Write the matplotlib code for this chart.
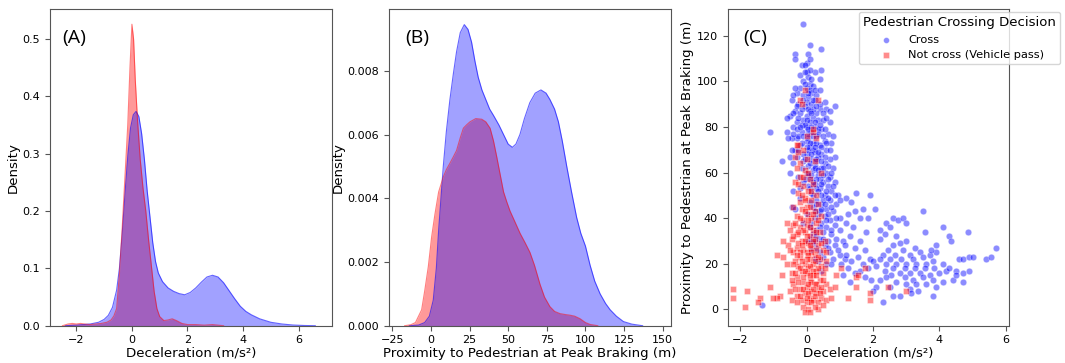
import matplotlib.pyplot as plt
import numpy as np

# ---- panel A: KDE of deceleration ----
decel_x_cross = [-2.4, -2.0, -1.5, -1.2, -1.0, -0.85, -0.7, -0.55, -0.45, -0.35, -0.25, -0.15,
                 -0.05, 0.05, 0.15, 0.25, 0.35, 0.45, 0.55, 0.65, 0.75, 0.85, 0.95, 1.1, 1.3,
                 1.5, 1.7, 1.9, 2.1, 2.3, 2.5, 2.7, 2.9, 3.1, 3.3, 3.5, 3.7, 3.9, 4.1, 4.3,
                 4.6, 5.0, 5.4, 5.8, 6.2, 6.6]
decel_d_cross = [0.0, 0.001, 0.003, 0.006, 0.011, 0.018, 0.032, 0.062, 0.1, 0.16, 0.23, 0.295,
                 0.345, 0.368, 0.374, 0.365, 0.335, 0.29, 0.235, 0.19, 0.145, 0.112, 0.092, 0.077,
                 0.066, 0.06, 0.056, 0.054, 0.058, 0.066, 0.076, 0.085, 0.088, 0.085, 0.075,
                 0.061, 0.047, 0.034, 0.025, 0.019, 0.012, 0.006, 0.003, 0.0012, 0.0004, 0.0]
decel_x_not = [-2.5, -2.3, -2.15, -2.0, -1.85, -1.7, -1.5, -1.3, -1.1, -0.9, -0.75, -0.65, -0.55,
               -0.45, -0.35, -0.25, -0.15, -0.07, 0.0, 0.06, 0.12, 0.2, 0.3, 0.4, 0.5, 0.6, 0.7,
               0.8, 0.9, 1.0, 1.15, 1.3, 1.45, 1.6, 1.8, 2.0, 2.3, 2.6, 2.9, 3.1, 3.3]
decel_d_not = [0.0, 0.003, 0.004, 0.003, 0.004, 0.003, 0.002, 0.003, 0.004, 0.006, 0.01, 0.017,
               0.03, 0.09, 0.17, 0.26, 0.35, 0.45, 0.526, 0.5, 0.43, 0.36, 0.29, 0.24, 0.2, 0.15,
               0.105, 0.06, 0.03, 0.016, 0.009, 0.01, 0.012, 0.009, 0.004, 0.002, 0.002, 0.001,
               0.002, 0.001, 0.0]

# ---- panel B: KDE of proximity at peak braking ----
prox_x_cross = [-14, -8, -4, -1, 1.5, 3.5, 5, 6.5, 8, 10, 12.3, 14.5, 16.6, 19, 21.6, 24, 26.3,
                28.5, 30.6, 33, 35.5, 38, 40.5, 44, 47, 50, 52.7, 55, 57.6, 60.5, 64, 67.5, 71.2,
                74.5, 77, 80, 82.5, 85, 87.9, 91, 94.3, 97, 100, 103, 106, 109.5, 113, 116, 120,
                124.6, 130, 137]
prox_d_cross = [0.0, 0.00002, 0.0001, 0.0003, 0.0008, 0.0018, 0.003, 0.004, 0.005, 0.0061, 0.0071,
                0.0079, 0.0086, 0.0092, 0.00945, 0.0093, 0.0089, 0.0083, 0.0078, 0.0074, 0.0071,
                0.0068, 0.0066, 0.0063, 0.006, 0.0057, 0.0056, 0.0057, 0.006, 0.0065, 0.0070,
                0.0073, 0.0074, 0.0073, 0.0071, 0.0068, 0.0064, 0.0058, 0.005, 0.0042, 0.0034,
                0.0029, 0.0025, 0.0019, 0.0014, 0.001, 0.0007, 0.0005, 0.0003, 0.00013, 0.00005, 0.0]
prox_x_not = [-17, -13, -10, -8, -6, -4, -1.7, 0.5, 2.6, 5, 8, 10, 12.3, 14.5, 16.6, 19, 21, 23,
              25.3, 29, 32.9, 35.5, 38.3, 40.5, 42.6, 45, 47, 49, 51.2, 54, 57.7, 61, 64.1, 67,
              70.6, 73.5, 77, 80, 83.5, 87, 90, 93, 96.5, 100, 103, 108]
prox_d_not = [0.0, 0.00003, 0.0001, 0.0003, 0.0005, 0.0011, 0.00185, 0.0028, 0.0035, 0.0042,
              0.00467, 0.0049, 0.0051, 0.0053, 0.0055, 0.0059, 0.0062, 0.0063, 0.0064, 0.0065,
              0.00648, 0.0064, 0.0062, 0.0058, 0.0053, 0.0047, 0.0042, 0.0039, 0.0036, 0.0033,
              0.0029, 0.0026, 0.0023, 0.0019, 0.0013, 0.0009, 0.0006, 0.00045, 0.00038, 0.00035,
              0.00033, 0.0003, 0.00022, 0.0001, 0.00004, 0.0]

# ---- panel C: scatter (deceleration, proximity) ----
cross_pts = [
    (-0.1, 125), (0.1, 116), (-0.35, 112), (-0.35, 110), (0.05, 112), (0.45, 114), (0.0, 108),
    (0.1, 110), (-0.15, 107), (-0.05, 107), (0.4, 101), (0.45, 105), (0.0, 104), (0.05, 102),
    (-0.1, 100), (0.1, 99), (0.2, 98), (-0.2, 97), (0.0, 97), (0.15, 95), (-0.3, 95), (-0.1, 94),
    (0.3, 94), (0.05, 93), (0.25, 92), (-0.45, 92), (-0.25, 90), (0.0, 91), (0.15, 90), (0.55, 91),
    (0.85, 89), (0.6, 88), (0.4, 88), (-0.35, 87), (0.1, 87), (0.3, 86), (-0.2, 86), (0.0, 85),
    (-0.5, 85), (0.2, 84), (-0.6, 84), (0.35, 83), (0.5, 83), (-0.1, 83), (0.1, 82), (-0.3, 82),
    (0.7, 82), (0.0, 80), (0.25, 80), (-0.4, 80), (0.45, 79), (-1.1, 78), (0.15, 78), (-0.15, 78),
    (0.65, 77), (0.8, 76), (0.3, 76), (-0.3, 75), (0.05, 75), (0.55, 74), (-0.45, 75), (0.2, 73),
    (0.75, 73), (-0.2, 72), (0.4, 72), (0.1, 71), (0.6, 70), (-0.35, 70), (0.25, 69), (0.0, 68),
    (0.45, 68), (0.85, 67), (-0.5, 67), (0.15, 66), (0.7, 66), (-0.75, 65), (0.3, 65), (0.55, 64),
    (-0.4, 64), (0.05, 63), (0.45, 62), (0.8, 62), (0.2, 61), (-0.5, 60), (0.6, 60), (0.35, 59),
    (0.7, 58), (-0.25, 58), (0.1, 57), (0.5, 56), (0.85, 56), (0.25, 55), (0.65, 54), (-0.4, 52),
    (0.4, 53), (0.75, 52), (0.15, 51), (0.55, 50), (0.95, 50), (-0.2, 49), (0.3, 48), (0.7, 48),
    (0.45, 46), (0.9, 46), (-0.45, 45), (0.2, 45), (0.6, 44), (-0.35, 44), (0.8, 43), (0.35, 42),
    (0.0, 42), (0.55, 41), (1.0, 40), (0.25, 40), (0.7, 39), (0.45, 38), (-0.1, 38), (0.85, 37),
    (0.6, 36), (0.3, 35), (1.0, 35), (0.5, 34), (0.2, 33), (0.75, 33), (0.9, 31), (0.4, 31),
    (0.65, 30), (0.05, 30), (1.1, 30), (0.55, 28), (0.85, 28), (0.3, 27), (0.15, 26), (0.7, 25),
    (1.0, 24), (0.5, 23), (0.35, 21),
    (0.1, 96), (-0.05, 89), (0.2, 88), (-0.15, 81), (0.35, 79), (0.05, 77), (-0.25, 76), (0.2, 70),
    (0.35, 67), (-0.1, 65), (0.25, 63), (0.4, 57), (0.05, 59), (0.3, 53), (0.5, 48), (0.4, 43),
    (0.65, 42), (0.1, 36), (0.25, 30),
    (-0.05, 99), (0.15, 101), (-0.2, 103), (0.25, 96), (-0.4, 94), (0.4, 96), (0.05, 95),
    (-0.1, 92), (0.2, 92), (0.4, 90), (-0.3, 89), (0.05, 88), (0.3, 89), (-0.15, 88), (0.5, 86),
    (-0.4, 86), (0.15, 86), (0.0, 83), (0.25, 82), (-0.25, 84), (0.6, 84), (0.4, 81), (-0.05, 81),
    (0.15, 80), (-0.3, 79), (0.55, 79), (0.05, 79), (0.35, 77), (-0.1, 76), (0.2, 76), (0.5, 76),
    (-0.4, 77), (0.0, 74), (0.3, 73), (0.6, 73), (-0.15, 73), (0.1, 73), (0.45, 71), (-0.25, 70),
    (0.25, 71), (0.05, 70), (0.7, 70), (0.35, 69), (-0.1, 68), (0.15, 68), (0.55, 67), (0.3, 66),
    (-0.05, 66), (0.45, 65), (0.1, 64), (0.65, 63), (0.25, 62), (-0.15, 62), (0.5, 62), (0.35, 61),
    (0.0, 60), (0.75, 60), (0.15, 59), (0.5, 59), (0.3, 57), (0.65, 57), (0.2, 56), (0.45, 55),
    (-0.1, 56), (0.8, 54), (0.05, 54), (0.35, 52), (0.6, 52), (0.2, 50), (0.45, 50), (0.85, 50),
    (0.65, 49), (0.3, 46), (0.1, 47), (0.55, 46), (0.75, 45), (0.45, 44), (0.25, 43), (0.6, 39),
    (0.15, 38), (0.4, 36), (0.75, 35), (0.5, 31), (0.3, 32), (0.2, 29), (0.65, 27), (0.4, 25),
    (0.8, 22), (0.6, 20), (0.25, 22), (0.45, 17), (0.1, 31), (0.9, 40), (0.95, 26), (1.15, 22),
    (0.75, 20), (-0.2, 53), (-0.05, 57), (0.1, 53), (-0.3, 67), (0.0, 71), (-0.45, 70), (-0.55, 75),
    (-0.6, 78), (-0.2, 80), (0.7, 87), (-0.35, 97), (0.25, 104), (0.1, 105), (-0.05, 104),
    (1.2, 49), (1.5, 51), (1.9, 50), (1.35, 47), (1.0, 48), (1.7, 44), (1.45, 43), (2.05, 44),
    (1.25, 42), (1.6, 40), (1.85, 40), (1.2, 38), (1.4, 36), (1.8, 34), (1.3, 32), (1.6, 30),
    (1.15, 28), (1.45, 27), (1.75, 26), (1.2, 24), (1.55, 23), (1.9, 22), (1.35, 21), (1.05, 20),
    (1.7, 20), (2.0, 21), (1.25, 18), (1.6, 17), (1.85, 18), (1.45, 16), (1.1, 15), (1.75, 14),
    (1.95, 13), (1.3, 12), (2.1, 10), (2.0, 8), (2.3, 3),
    (2.2, 31), (2.4, 38), (2.6, 40), (2.75, 39), (2.9, 40), (3.0, 38), (2.5, 36), (2.2, 35),
    (2.35, 33), (2.7, 32), (3.5, 43), (3.55, 34), (4.1, 36), (4.3, 32), (4.35, 30), (4.85, 34),
    (3.9, 28), (3.0, 30), (2.8, 29), (2.6, 28), (3.25, 27), (2.45, 26), (2.9, 26), (3.4, 25),
    (2.3, 24), (2.65, 24), (3.1, 24), (3.7, 24), (3.9, 25), (2.2, 22), (2.5, 22), (2.85, 22),
    (3.2, 22), (3.5, 23), (3.8, 21), (2.4, 20), (2.7, 20), (3.0, 20), (3.3, 20), (3.6, 20),
    (2.1, 19), (2.6, 18), (2.95, 18), (3.25, 18), (3.55, 18), (3.85, 18), (4.2, 17), (2.35, 17),
    (2.8, 16), (3.1, 16), (3.4, 16), (3.7, 15), (4.0, 16), (4.5, 17), (4.7, 16), (4.9, 17),
    (2.55, 15), (2.95, 14), (3.2, 13), (3.5, 14), (3.8, 13), (4.1, 12), (4.4, 13), (4.7, 12),
    (2.7, 12), (3.0, 11), (3.3, 11), (3.6, 11), (3.9, 10), (2.5, 10), (3.1, 9), (3.35, 8),
    (2.6, 6), (2.8, 6), (3.15, 7), (3.8, 6), (4.6, 22), (4.7, 22), (4.9, 23), (5.0, 23),
    (5.4, 22), (5.55, 23), (5.7, 27), (4.3, 18), (4.1, 20), (4.5, 15), (3.75, 26), (2.2, 13),
    (2.4, 14), (-1.35, 2),
]
not_cross_pts = [
    (-0.05, 96), (-0.2, 92), (0.35, 92), (-0.15, 90), (0.2, 78), (0.2, 79), (-0.25, 72), (-0.3, 72),
    (-0.1, 70), (-0.35, 67), (0.0, 66), (-0.2, 64), (0.25, 65), (-0.3, 62), (-0.05, 61), (0.45, 60),
    (-0.2, 58), (0.1, 57), (-0.35, 56), (0.2, 55), (-0.1, 54), (0.05, 52), (-0.25, 51), (0.3, 50),
    (-0.05, 49), (0.15, 48), (-0.2, 47), (0.35, 46), (0.0, 45), (-0.15, 44), (0.25, 43), (0.05, 42),
    (-0.3, 41), (0.45, 41), (0.15, 40), (-0.1, 39), (-0.6, 38), (0.3, 38), (-0.4, 37), (0.0, 37),
    (-0.2, 36), (0.2, 35), (-0.5, 35), (0.4, 34), (-0.05, 34), (-0.3, 33), (0.1, 32), (-0.45, 31),
    (0.25, 31), (-0.15, 30), (0.05, 29), (-0.55, 28), (0.35, 28), (-0.3, 27), (0.15, 27), (-0.1, 26),
    (0.5, 26), (-0.4, 25), (0.0, 25), (-0.9, 24), (-0.7, 23), (0.25, 24), (-0.2, 23), (0.4, 22),
    (0.1, 22), (-0.35, 21), (0.6, 21), (-0.05, 20), (0.2, 20), (-0.25, 19), (0.45, 19), (0.05, 18),
    (-0.15, 17), (0.3, 17), (1.05, 18), (-0.45, 16), (0.0, 16), (0.5, 16), (-0.75, 15), (0.2, 15),
    (-0.3, 14), (0.1, 13), (0.4, 13), (-0.1, 12), (1.5, 14), (1.5, 10), (-0.4, 11), (0.25, 11),
    (0.6, 11), (-1.1, 10), (0.0, 10), (0.35, 9), (-0.2, 9), (0.7, 9), (-2.2, 9), (-1.8, 8),
    (-0.5, 8), (0.15, 8), (0.5, 8), (-0.05, 7), (0.3, 7), (-0.3, 6), (-0.8, 6), (-0.9, 5),
    (-1.4, 5), (-2.2, 5), (1.9, 7), (0.1, 5), (0.45, 5), (-0.15, 4), (0.2, 4), (0.6, 4),
    (-0.45, 4), (1.25, 5), (1.9, 4), (0.0, 3), (0.35, 3), (-0.1, 1), (0.05, 0), (0.35, 0),
    (-1.85, 1), (-1.45, 3), (-1.0, 5), (2.45, 10), (3.0, 8), (1.55, 15), (1.75, 18), (0.75, 5),
    (0.85, 10), (0.9, 15), (-0.6, 20), (-0.7, 30), (0.55, 30), (0.6, 25), (-0.4, 45), (-0.25, 69),
    (0.0, 76), (0.3, 75), (-0.05, 48),
    (-0.1, 58), (0.05, 60), (-0.25, 55), (0.15, 52), (-0.15, 50), (0.1, 45), (-0.05, 43), (0.2, 42),
    (-0.2, 40), (0.35, 39), (0.05, 39), (-0.35, 38), (0.1, 36), (-0.1, 35), (0.3, 34), (-0.25, 34),
    (0.0, 32), (-0.4, 32), (0.2, 30), (-0.05, 30), (0.45, 29), (-0.25, 29), (0.1, 28), (-0.15, 28),
    (0.3, 26), (-0.5, 26), (0.15, 25), (-0.2, 25), (0.05, 24), (-0.3, 24), (0.35, 23), (0.0, 22),
    (-0.15, 21), (0.25, 21), (-0.4, 20), (0.1, 19), (0.35, 18), (-0.2, 18), (0.55, 18), (-0.05, 17),
    (0.2, 17), (-0.35, 16), (0.1, 15), (0.3, 15), (-0.1, 14), (0.15, 12), (0.5, 13), (-0.25, 12),
    (0.05, 11), (0.3, 11), (-0.45, 13), (0.45, 10), (-0.1, 9), (0.2, 9), (-0.35, 9), (0.05, 7),
    (0.25, 6), (0.4, 7), (-0.2, 6), (0.0, 5), (0.15, 3), (-0.3, 3), (0.5, 2), (0.25, 1),
    (-0.05, -1), (0.1, -1),
]

panel_labels = ['(A)', '(B)', '(C)']
legend_labels = ['Cross', 'Not cross (Vehicle pass)']

blue = 'blue'
red = 'red'
spine_col = '#555555'

fig = plt.figure(figsize=(10.65, 3.63), dpi=100)
axA = fig.add_axes([0.0469, 0.1027, 0.2648, 0.8716])
axB = fig.add_axes([0.3653, 0.1027, 0.2648, 0.8716])
axC = fig.add_axes([0.6833, 0.1027, 0.2644, 0.8716])

lab_fs = 9.6
tick_fs = 8

def kde_panel(ax, xn, dn, xc, dc):
    ax.fill_between(xn, dn, color=red, alpha=0.4, lw=0)
    ax.fill_between(xc, dc, color=blue, alpha=0.37, lw=0)
    ax.plot(xc, dc, color=blue, lw=0.8, alpha=0.6)
    ax.plot(xn, dn, color=red, lw=0.8, alpha=0.5)
    ax.set_ylabel('Density', fontsize=lab_fs, labelpad=2)

kde_panel(axA, decel_x_not, decel_d_not, decel_x_cross, decel_d_cross)
axA.set_xlim(-2.95, 7.2)
axA.set_ylim(0, 0.552)
axA.set_xticks([-2, 0, 2, 4, 6])
axA.set_xlabel('Deceleration (m/s²)', fontsize=lab_fs, labelpad=1)

kde_panel(axB, prox_x_not, prox_d_not, prox_x_cross, prox_d_cross)
axB.set_xlim(-27.1, 155.4)
axB.set_ylim(0, 0.00993)
axB.set_xticks([-25, 0, 25, 50, 75, 100, 125, 150])
axB.set_yticks([0, 0.002, 0.004, 0.006, 0.008])
axB.set_yticklabels(['0.000', '0.002', '0.004', '0.006', '0.008'])
axB.set_xlabel('Proximity to Pedestrian at Peak Braking (m)', fontsize=lab_fs, labelpad=1)

cx = [p[0] for p in cross_pts]
cy = [p[1] for p in cross_pts]
nx = [p[0] for p in not_cross_pts]
ny = [p[1] for p in not_cross_pts]
axC.scatter(cx, cy, s=22, c=blue, alpha=0.45, marker='o', edgecolors='white', linewidths=0.5,
            label=legend_labels[0])
axC.scatter(nx, ny, s=22, c=red, alpha=0.45, marker='s', edgecolors='white', linewidths=0.5,
            label=legend_labels[1])
axC.set_xlim(-2.37, 6.1)
axC.set_ylim(-7.2, 131.6)
axC.set_xticks([-2, 0, 2, 4, 6])
axC.set_yticks([0, 20, 40, 60, 80, 100, 120])
axC.set_xlabel('Deceleration (m/s²)', fontsize=lab_fs, labelpad=1)
axC.set_ylabel('Proximity to Pedestrian at Peak Braking (m)', fontsize=lab_fs, labelpad=2)
leg = axC.legend(title='Pedestrian Crossing Decision', loc='upper right',
                 bbox_to_anchor=(1.2, 1.01), fontsize=8.2, title_fontsize=9.5,
                 frameon=True, borderpad=0.35, labelspacing=0.5, handletextpad=0.9,
                 markerscale=0.9)
leg.get_frame().set_edgecolor('#cccccc')

for ax, lab, lx in zip([axA, axB, axC], panel_labels, [0.045, 0.057, 0.054]):
    ax.text(lx, 0.91, lab, transform=ax.transAxes, fontsize=14, family='Open Sans', va='center')
    ax.tick_params(labelsize=tick_fs, color=spine_col, length=3.5)
    for s in ax.spines.values():
        s.set_edgecolor(spine_col)

fig.savefig('out.png', dpi=100)
